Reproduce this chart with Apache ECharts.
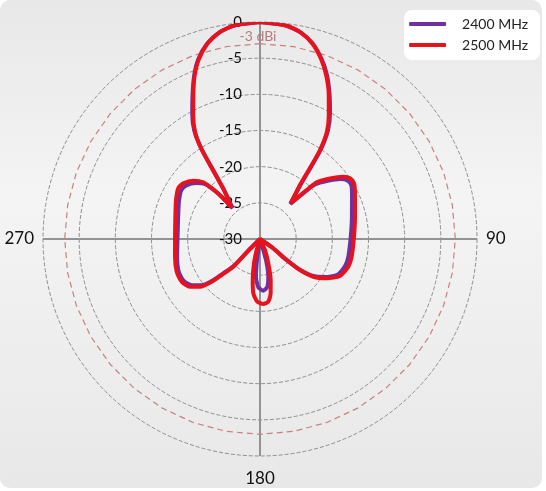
<!DOCTYPE html>
<html><head><meta charset="utf-8">
<script src="https://cdn.jsdelivr.net/npm/echarts@6/dist/echarts.min.js"></script>
<style>html,body{margin:0;padding:0;background:#fff}#c{width:546px;height:491px}</style>
</head><body><div id="c"></div>
<script>
// ---- data (gain in dBi, angle in degrees, traced in drawing order) ----
const seriesNames = ['2400 MHz', '2500 MHz'];
const angles2400 = [0,6.66,10.89,15.06,18.9,22.2,25.6,29.1,32.05,34.1,35.3,36.8,40.8,43.8,45.2,49.3,53.4,56.2,59.5,64.4,76.8,88.6,100.9,107.4,114.8,120.5,125.3,127.8,128.2,125,125,163.3,164.6,167.6,171.3,176.3,182,186.1,187.7,188.8,195,225,224.2,227,228.7,231.6,235.8,241.4,248.6,258.2,271.6,284.7,294.9,301.8,306,311.2,315,316.8,317.8,318.4,323.8,325.8,327,328.8,331.6,335.05,338.1,341.1,344.9,349.1,353.3,360];
const gain2400 = [0,-0.25,-0.85,-2.0,-3.7,-5.5,-7.75,-10.1,-12.3,-14.9,-17.8,-20.6,-23.6,-20.9,-19.3,-17.65,-16.1,-15.45,-15.35,-15.9,-16.95,-17.45,-17.55,-17.65,-18.2,-19.65,-21.3,-23.3,-25.5,-27.9,-30,-28.41,-26.52,-24.66,-23.32,-22.84,-23.32,-24.76,-26.6,-28.46,-30,-27.6,-24.9,-23.0,-21.35,-19.7,-18.6,-17.95,-17.9,-18.3,-18.6,-18.3,-17.65,-17.2,-17.4,-18.25,-19.3,-20.9,-22.4,-24.3,-21.5,-18.3,-15.1,-12.45,-10.3,-7.9,-5.6,-3.7,-2.0,-0.85,-0.25,0];
const angles2500 = [0,6.66,10.89,15.06,18.9,22.2,25.6,29.1,32.05,34.0,35.15,36.5,40.7,43.6,45,49.1,53.2,56.0,59.35,64.3,76.8,88.6,100.9,107.4,114.8,120.5,125.3,127.8,128.2,125,125,155.6,161.1,165.4,168.9,172.5,177.1,182.5,187,190.1,193.9,196.7,200,225,224,226.8,228.5,231.5,235.7,241.4,248.6,258.2,271.6,284.7,294.9,301.8,306,311.2,315,316.8,317.8,318.2,323.7,325.7,326.9,328.7,331.6,335.05,338.1,341.1,344.9,349.1,353.3,360];
const gain2500 = [0,-0.25,-0.85,-2.05,-3.8,-5.7,-8.0,-10.45,-12.6,-15.16,-18.0,-20.7,-23.43,-20.64,-18.91,-17.19,-15.62,-14.99,-14.89,-15.43,-16.51,-17.0,-17.09,-17.21,-17.82,-19.3,-20.97,-23.0,-25.3,-27.76,-30,-28.33,-26.45,-24.14,-22.35,-21.26,-21.0,-21.32,-22.44,-24.25,-26.54,-28.41,-30,-27.4,-24.68,-22.73,-21.08,-19.4,-18.29,-17.67,-17.63,-18.0,-18.25,-17.9,-17.2,-16.7,-16.9,-17.75,-18.91,-20.57,-22.1,-24.12,-21.6,-18.46,-15.31,-12.75,-10.6,-8.15,-5.75,-3.8,-2.05,-0.85,-0.25,0];
const refLevel = -3;
const refLabel = '-3 dBi';
const refAngles = [0,10,20,30,40,50,60,70,80,90,100,110,120,130,140,150,160,170,180,190,200,210,220,230,240,250,260,270,280,290,300,310,320,330,340,350,360];
const radialMin = -30, radialMax = 0, radialStep = 5;
const angleTicks = [0, 90, 180, 270];

const pair = (g, a) => g.map((v, i) => [v, a[i]]);
const chart = echarts.init(document.getElementById('c'), null, {renderer: 'canvas'});
const option = {
  animation: false,
  backgroundColor: '#ffffff',
  graphic: [{
    id: 'panel', type: 'rect', z: -10, silent: true,
    shape: {x: 0, y: 0, width: 542, height: 488, r: 10},
    style: {fill: new echarts.graphic.LinearGradient(0, 0, 0, 1, [
      {offset: 0, color: '#e8e8e8'}, {offset: 0.4, color: '#f4f4f4'}, {offset: 1, color: '#e8e8e8'}])}
  }],
  legend: {
    orient: 'vertical', right: 6, top: 10,
    backgroundColor: '#ffffff', borderRadius: 8,
    padding: [7, 12, 8, 5], itemGap: 7,
    itemWidth: 37, itemHeight: 4, icon: 'roundRect',
    textStyle: {fontFamily: 'Lato', fontSize: 14, color: '#222', padding: [0, 0, 0, 11]},
    data: seriesNames
  },
  polar: {center: [260, 239], radius: 217},
  angleAxis: {
    type: 'value', min: 0, max: 360, interval: 90, startAngle: 90, clockwise: true,
    axisLine: {show: false}, axisTick: {show: false},
    axisLabel: {margin: 9, fontFamily: 'Lato', fontSize: 17, color: '#111',
      formatter: v => (angleTicks.includes(v) && v !== 0 && v !== 360) ? (v === 180 ? '{b|180}' : String(v)) : '',
      rich: {b: {fontFamily: 'Lato', fontSize: 17, color: '#111', padding: [5, 0, 0, 0]}}},
    splitLine: {show: true, lineStyle: {color: '#939393', width: 2}}
  },
  radiusAxis: {
    type: 'value', min: radialMin, max: radialMax, interval: radialStep,
    axisLine: {show: false}, axisTick: {show: false},
    axisLabel: {margin: 18, fontFamily: 'Lato', fontSize: 15, color: '#111'},
    splitLine: {show: true, lineStyle: {color: '#8e8e8e', width: 1, type: [4, 2]}}
  },
  series: [
    {name: 'ref', type: 'line', coordinateSystem: 'polar', symbol: 'none', silent: true, z: 1,
      lineStyle: {color: '#c88080', width: 1.2, type: [6, 4]},
      data: refAngles.map(a => [refLevel, a])},
    {name: seriesNames[0], type: 'line', coordinateSystem: 'polar', symbol: 'none', smooth: 0.22, z: 3,
      color: '#7030a0', lineStyle: {width: 4, color: '#7030a0'}, data: pair(gain2400, angles2400)},
    {name: seriesNames[1], type: 'line', coordinateSystem: 'polar', symbol: 'none', smooth: 0.22, z: 4,
      color: '#e8121c', lineStyle: {width: 4, color: '#e8121c'}, data: pair(gain2500, angles2500)}
  ]
};
chart.setOption(option);
const p = chart.convertToPixel({polarIndex: 0}, [refLevel, 0]);
chart.setOption({graphic: [{
  id: 'reflabel', type: 'text', z: 10, silent: true,
  x: p[0] - 2, y: p[1] - 0.5,
  style: {text: refLabel, fill: '#b47c7c', font: '14px Lato', textAlign: 'center', textVerticalAlign: 'bottom'}
}]});
</script></body></html>
